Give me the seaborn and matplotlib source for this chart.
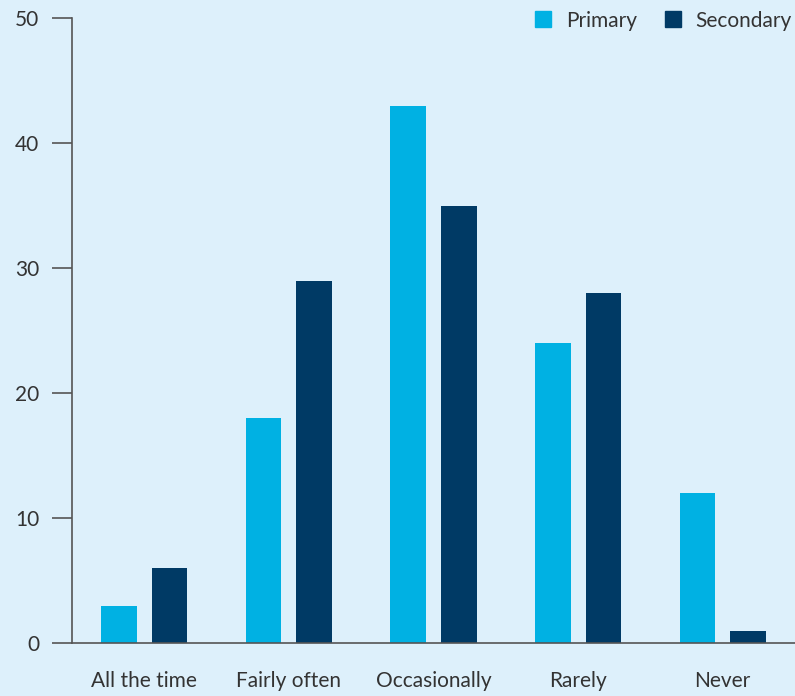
import numpy as np
import pandas as pd
import matplotlib
matplotlib.use('Agg')
import matplotlib.pyplot as plt
import seaborn as sns

categories = ['All the time', 'Fairly often', 'Occasionally', 'Rarely', 'Never']
primary = [3, 18, 43, 24, 12]
secondary = [6, 29, 35, 28, 1]
groups = ['Primary', 'Secondary']

bg = '#ddf0fb'
colors = {'Primary': '#00b1e3', 'Secondary': '#003a65'}
text_col = '#333333'

sns.set_style('ticks')
plt.rcParams['font.family'] = ['Lato', 'DejaVu Sans']

df = pd.DataFrame({
    'Category': categories * 2,
    'Value': primary + secondary,
    'Group': ['Primary'] * len(categories) + ['Secondary'] * len(categories),
})

fig = plt.figure(figsize=(7.95, 6.96), dpi=100, facecolor=bg)
ax = fig.add_axes([72 / 795, 53 / 696, 1 - 72 / 795, 625 / 696])
ax.set_facecolor(bg)

sns.barplot(data=df, x='Category', y='Value', hue='Group', order=categories,
            hue_order=groups, palette=colors, width=0.7, gap=0.3,
            saturation=1, linewidth=0, ax=ax, legend=False)

ax.set_xlim(-0.5, 4.5)
ax.set_ylim(0, 50)
ax.set_yticks(range(0, 51, 10))
ax.set_xlabel('')
ax.set_ylabel('')
for s in ['top', 'right']:
    ax.spines[s].set_visible(False)
for s in ['left', 'bottom']:
    ax.spines[s].set_color('#555555')
    ax.spines[s].set_linewidth(1.2)
ax.tick_params(axis='y', length=14.4, width=1.2, color='#555555', pad=9,
               labelsize=15, labelcolor=text_col)
ax.tick_params(axis='x', length=0, pad=20, labelsize=15, labelcolor=text_col)

handles = [plt.Line2D([], [], marker='s', linestyle='', markersize=11,
                      color=colors[g]) for g in groups]
leg = ax.legend(handles, groups, loc='upper right', ncol=2, frameon=False,
                bbox_to_anchor=(1.007, 1.025), fontsize=15, handletextpad=0.5,
                columnspacing=1.1, borderaxespad=0, handlelength=1.2)
for t in leg.get_texts():
    t.set_color(text_col)

fig.savefig('out.png', dpi=100, facecolor=bg)
